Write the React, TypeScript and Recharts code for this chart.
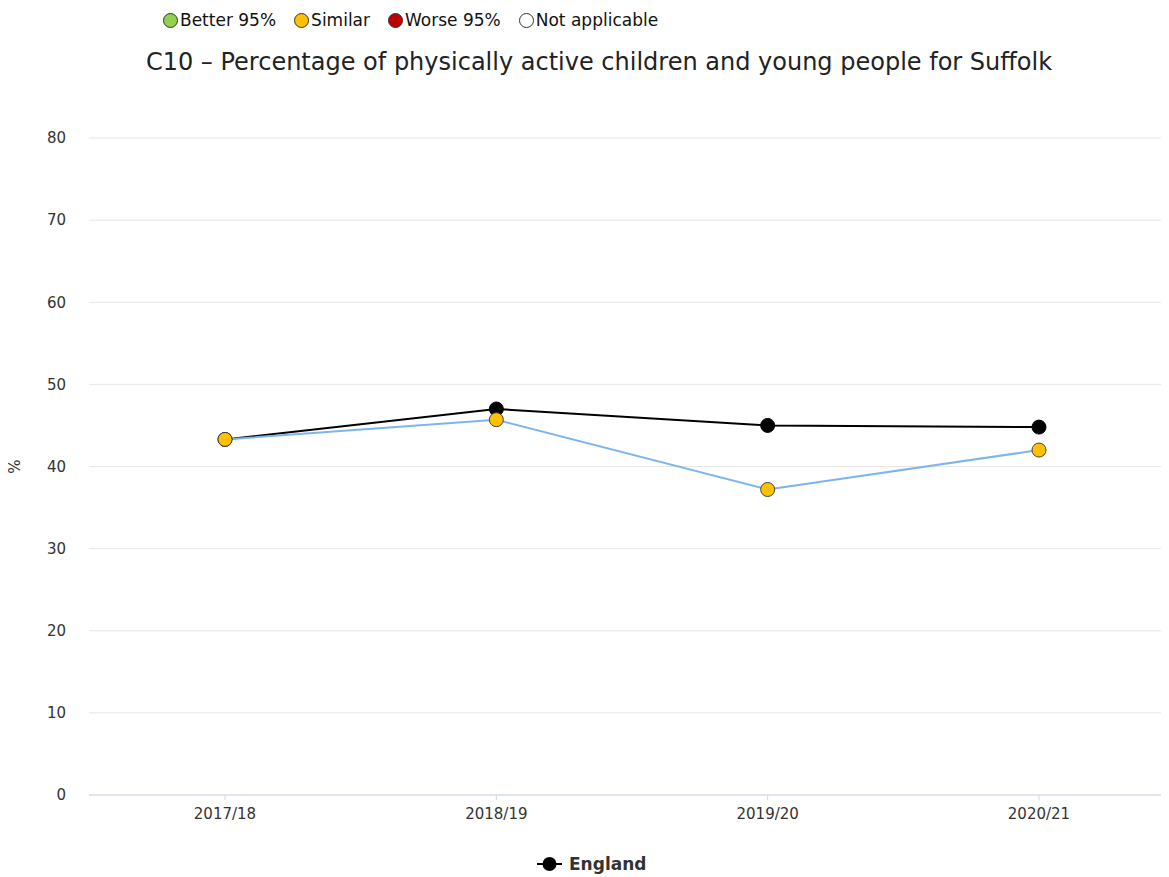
import { LineChart, Line, XAxis, YAxis, CartesianGrid } from "recharts";

// Periods and values
const periods = ["2017/18", "2018/19", "2019/20", "2020/21"];
const suffolkValues = [43.3, 45.7, 37.2, 42.0];
const englandValues = [43.3, 47.0, 45.0, 44.8];
const yTicks = [0, 10, 20, 30, 40, 50, 60, 70, 80];

const legendItems = [
  { label: "Better 95%", color: "#92D050" },
  { label: "Similar", color: "#FFC000" },
  { label: "Worse 95%", color: "#C00000" },
  { label: "Not applicable", color: "#FFFFFF" },
];

const data = periods.map((p, i) => ({
  period: p,
  suffolk: suffolkValues[i],
  england: englandValues[i],
}));

const font = "'DejaVu Sans', Verdana, sans-serif";

export default function App() {
  return (
    <div
      style={{
        position: "relative",
        marginLeft: -8,
        marginTop: -8,
        width: 1169,
        height: 877,
        overflow: "hidden",
        fontFamily: font,
        background: "#fff",
      }}
    >
      {/* status key */}
      <div
        style={{
          position: "absolute",
          top: 10,
          left: 163,
          display: "flex",
          alignItems: "center",
          fontSize: 17,
          color: "#111",
          whiteSpace: "nowrap",
        }}
      >
        {legendItems.map((it) => (
          <span key={it.label} style={{ display: "flex", alignItems: "center", marginRight: 18 }}>
            <span
              style={{
                display: "inline-block",
                width: 15,
                height: 15,
                borderRadius: "50%",
                background: it.color,
                border: "1px solid #333",
                marginRight: 2,
                boxSizing: "border-box",
              }}
            />
            {it.label}
          </span>
        ))}
      </div>

      {/* title */}
      <div
        style={{
          position: "absolute",
          top: 48,
          left: 0,
          width: 1198,
          textAlign: "center",
          fontSize: 24,
          color: "#222",
          whiteSpace: "nowrap",
        }}
      >
        C10 – Percentage of physically active children and young people for Suffolk
      </div>

      <LineChart
        width={1177}
        height={877}
        data={data}
        margin={{ top: 138, right: 2, bottom: 0, left: 0 }}
      >
        <CartesianGrid vertical={false} stroke="#e6e6e6" />
        <XAxis
          dataKey="period"
          padding={{ left: 136, right: 136 }}
          axisLine={{ stroke: "#ccd6eb" }}
          tickLine={{ stroke: "#ccd6eb" }}
          tickSize={5}
          tickMargin={8}
          tick={{ fill: "#333", fontSize: 15, fontFamily: font }}
          height={82}
        />
        <YAxis
          domain={[0, 80]}
          ticks={yTicks}
          width={89}
          axisLine={false}
          tickLine={false}
          tickSize={0}
          tickMargin={23}
          tick={{ fill: "#333", fontSize: 15, fontFamily: font }}
          label={{
            value: "%",
            content: ({ viewBox }: any) => (
              <text
                x={20}
                y={viewBox.y + viewBox.height / 2}
                transform={`rotate(-90 20 ${viewBox.y + viewBox.height / 2})`}
                textAnchor="middle"
                fill="#333"
                fontSize={15}
                fontFamily={font}
              >
                %
              </text>
            ),
          }}
        />
        <Line
          type="linear"
          dataKey="england"
          stroke="#000"
          strokeWidth={2}
          isAnimationActive={false}
          dot={{ r: 7, fill: "#000", stroke: "#000", strokeWidth: 1 }}
        />
        <Line
          type="linear"
          dataKey="suffolk"
          stroke="#7cb5ec"
          strokeWidth={2}
          isAnimationActive={false}
          dot={{ r: 7, fill: "#FFC000", stroke: "#444", strokeWidth: 1 }}
        />
      </LineChart>

      {/* series legend */}
      <div
        style={{
          position: "absolute",
          top: 854,
          left: 537,
          display: "flex",
          alignItems: "center",
          fontSize: 17,
          fontWeight: "bold",
          color: "#333",
        }}
      >
        <svg width={25} height={16} style={{ marginRight: 7 }}>
          <line x1={0} y1={8} x2={25} y2={8} stroke="#000" strokeWidth={2} />
          <circle cx={12.5} cy={8} r={7} fill="#000" />
        </svg>
        England
      </div>
    </div>
  );
}
